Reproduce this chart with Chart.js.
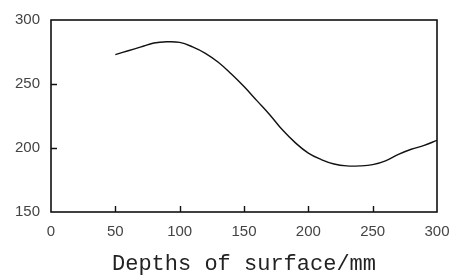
<!DOCTYPE html>
<html>
<head>
<meta charset="utf-8">
<script src="https://cdn.jsdelivr.net/npm/chart.js@4"></script>
<style>
html,body{margin:0;padding:0;background:#fff;}
#wrap{width:453px;height:277px;position:relative;}
</style>
</head>
<body>
<div id="wrap"><canvas id="c" width="453" height="277"></canvas></div>
<script>
const depths = [50, 60, 70, 80, 90, 100, 110, 120, 130, 140, 150, 160, 170, 180, 190, 200, 210, 220, 230, 240, 250, 260, 270, 280, 290, 300];
const values = [273, 276, 279, 282, 283, 282.5, 279, 274, 267, 258, 248, 237, 226, 214, 204, 196, 191, 187.5, 186, 186, 187, 190, 195, 199, 202, 206];
const xTicks = [0, 50, 100, 150, 200, 250, 300];
const yTicks = [150, 200, 250, 300];
const xTitle = "Depths of surface/mm";

const frame = {
  id: 'frame',
  afterDatasetsDraw(chart) {
    const {ctx, chartArea: a, scales} = chart;
    ctx.save();
    ctx.strokeStyle = '#111';
    ctx.lineWidth = 1.6;
    ctx.strokeRect(a.left, a.top, a.right - a.left, a.bottom - a.top);
    ctx.lineWidth = 1.4;
    ctx.beginPath();
    xTicks.forEach(v => {
      if (v === xTicks[0] || v === xTicks[xTicks.length - 1]) return;
      const x = Math.round(scales.x.getPixelForValue(v)) + 0.5;
      ctx.moveTo(x, a.bottom);
      ctx.lineTo(x, a.bottom - 6);
    });
    yTicks.forEach(v => {
      if (v === yTicks[0] || v === yTicks[yTicks.length - 1]) return;
      const y = Math.round(scales.y.getPixelForValue(v)) + 0.5;
      ctx.moveTo(a.left, y);
      ctx.lineTo(a.left + 6, y);
    });
    ctx.stroke();
    ctx.restore();
  }
};

new Chart(document.getElementById('c'), {
  type: 'line',
  data: {
    datasets: [{
      data: depths.map((d, i) => ({x: d, y: values[i]})),
      borderColor: '#111',
      borderWidth: 1.4,
      pointRadius: 0,
      tension: 0.4,
      fill: false
    }]
  },
  options: {
    responsive: false,
    animation: false,
    layout: {padding: {left: 0, right: 16, top: 19, bottom: 0}},
    plugins: {legend: {display: false}, tooltip: {enabled: false}},
    scales: {
      x: {
        type: 'linear', min: 0, max: 300,
        afterBuildTicks: s => { s.ticks = xTicks.map(v => ({value: v})); },
        afterFit: s => { s.height = 65; s.paddingRight = 0; },
        grid: {display: false, drawTicks: false},
        border: {display: false},
        ticks: {color: '#444', font: {family: 'Liberation Sans', size: 15}, padding: 11, maxRotation: 0, autoSkip: false},
        title: {display: true, text: xTitle, color: '#222', font: {family: 'Liberation Mono', size: 22}, padding: {top: 4, bottom: 0}}
      },
      y: {
        type: 'linear', min: 150, max: 300,
        afterBuildTicks: s => { s.ticks = yTicks.map(v => ({value: v})); },
        afterFit: s => { s.width = 51; },
        grid: {display: false, drawTicks: false},
        border: {display: false},
        ticks: {color: '#444', font: {family: 'Liberation Sans', size: 15}, padding: 11}
      }
    }
  },
  plugins: [frame]
});
</script>
</body>
</html>
